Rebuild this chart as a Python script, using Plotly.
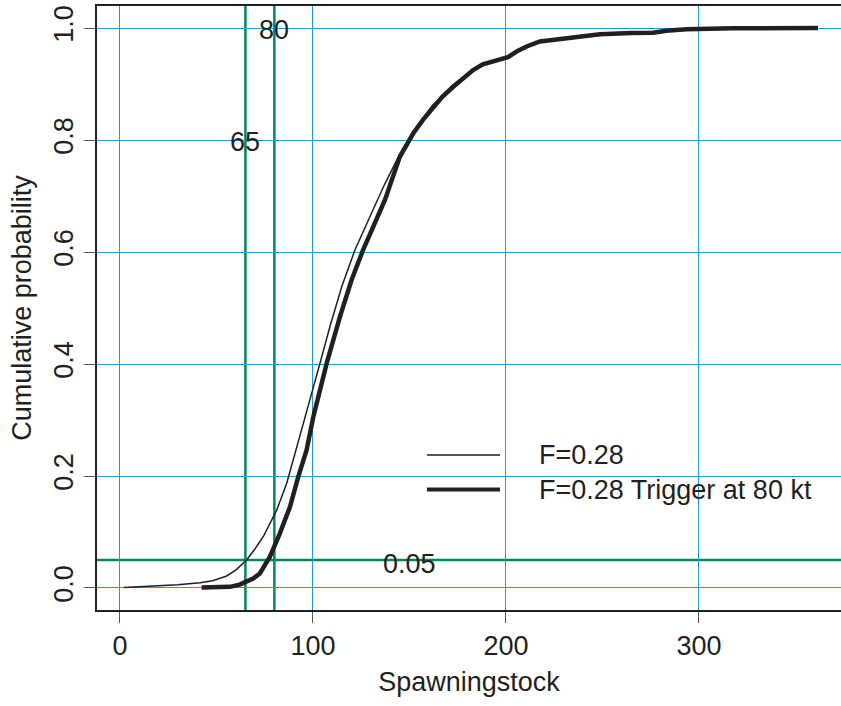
import plotly.graph_objects as go

# Data
thin_x = [2, 15, 30, 41.5, 48, 55, 60, 65.6, 70, 74.3, 81.2, 86.4, 90.5, 94.5, 98.4, 103.6, 108.8, 114.9,
          121.8, 129.5, 137, 144, 149.4, 155, 162, 167, 172, 178, 183, 188, 193, 198, 202, 206, 211, 218, 231,
          249, 265, 276, 283, 294, 318, 340, 361]
thin_y = [0.001, 0.003, 0.006, 0.0095, 0.013, 0.021, 0.032, 0.05, 0.07, 0.092, 0.139, 0.187, 0.237,
          0.285, 0.336, 0.401, 0.467, 0.538, 0.604, 0.663, 0.72, 0.768, 0.8, 0.83, 0.862, 0.878, 0.897, 0.912,
          0.926, 0.936, 0.941, 0.944, 0.949, 0.958, 0.967, 0.976, 0.982, 0.989, 0.991, 0.992, 0.995, 0.998,
          0.999, 1.0, 1.0]

thick_x = [42.3, 50, 57, 62, 65.6, 69, 72.5, 77.7, 82.9, 88.1, 92.4, 96.7, 100.2, 107.1, 114, 120, 126, 133,
           137.3, 145, 152, 157, 162.3, 167, 172.7, 178, 183, 188, 193, 197, 201, 205.5, 210.7, 217.6, 231.4,
           248.7, 265, 276.3, 283, 293.6, 317.8, 340, 361.7]
thick_y = [0.001, 0.001, 0.002, 0.006, 0.011, 0.017, 0.026, 0.056, 0.098, 0.145, 0.199, 0.246, 0.306, 0.401,
           0.4845, 0.55, 0.604, 0.657, 0.693, 0.77, 0.812, 0.836, 0.859, 0.877, 0.895, 0.911, 0.925, 0.935,
           0.94, 0.943, 0.948, 0.958, 0.967, 0.976, 0.982, 0.989, 0.991, 0.9916, 0.995, 0.9976, 0.9994, 1.0, 1.0]

series_names = ["F=0.28", "F=0.28 Trigger at 80 kt"]
ref_vlines = [65, 80]
ref_hline = 0.05
x_ticks = [0, 100, 200, 300]
y_ticks = [0.0, 0.2, 0.4, 0.6, 0.8, 1.0]

INK = "#231f20"
GRID = "#1f9ad6"
GREEN = "#00885a"
FONT = "Liberation Sans, Arial, sans-serif"
FS = 27

fig = go.Figure()
fig.add_trace(go.Scatter(x=thin_x, y=thin_y, mode="lines", name=series_names[0],
                         line=dict(color=INK, width=1.5), showlegend=False))
fig.add_trace(go.Scatter(x=thick_x, y=thick_y, mode="lines", name=series_names[1],
                         line=dict(color=INK, width=4.5), showlegend=False))

shapes = []
for v in ref_vlines:
    shapes.append(dict(type="line", xref="x", yref="paper", x0=v, x1=v, y0=0, y1=1,
                       line=dict(color=GREEN, width=2.5), layer="below"))
shapes.append(dict(type="line", xref="paper", yref="y", x0=0, x1=1, y0=ref_hline, y1=ref_hline,
                   line=dict(color=GREEN, width=2.5), layer="below"))

# manual legend
leg_y = [0.2566, 0.1995]
leg_w = [1.3, 3.8]
annotations = []
for name, yy, w in zip(series_names, leg_y, leg_w):
    shapes.append(dict(type="line", xref="paper", yref="paper", x0=0.4435, x1=0.5417, y0=yy, y1=yy,
                       line=dict(color=INK, width=w)))
    annotations.append(dict(xref="paper", yref="paper", x=0.5914, y=yy, text=name, showarrow=False,
                            xanchor="left", yanchor="middle", font=dict(size=FS, color=INK, family=FONT)))

for v, yy in zip(ref_vlines, [0.8, 1.0]):
    annotations.append(dict(x=v, y=yy, text=str(v), showarrow=False, xanchor="center", yanchor="middle",
                            yshift=-2, font=dict(size=FS, color=INK, family=FONT)))
annotations.append(dict(x=150, y=ref_hline, text="0.05", showarrow=False, xanchor="center",
                        yanchor="middle", yshift=-4, font=dict(size=FS, color=INK, family=FONT)))

fig.update_layout(
    width=841, height=706,
    margin=dict(l=97, r=0, t=6, b=96),
    plot_bgcolor="white", paper_bgcolor="white",
    font=dict(family=FONT, size=FS, color=INK),
    shapes=shapes, annotations=annotations,
    xaxis=dict(range=[-11.9, 373.6], tickvals=x_ticks, ticktext=[str(t) for t in x_ticks],
               showgrid=True, gridcolor=GRID, gridwidth=1.2, zeroline=False,
               showline=True, linecolor=INK, linewidth=1.5, mirror=True,
               ticks="outside", ticklen=11, tickcolor="#555", tickwidth=1,
               title=dict(text="Spawningstock", font=dict(size=FS), standoff=12)),
    yaxis=dict(range=[-0.0393, 1.0393], tickvals=y_ticks, ticktext=[f"{t:.1f}" for t in y_ticks],
               showgrid=True, gridcolor=GRID, gridwidth=1.2, zeroline=False,
               showline=True, linecolor=INK, linewidth=1.5,
               ticks="outside", ticklen=11, tickcolor="#555", tickwidth=1, tickangle=-90,
               title=dict(text="Cumulative probability", font=dict(size=FS), standoff=10)),
)

fig.write_html("out.html", config={"displayModeBar": False},
               post_script="document.body.style.margin='0';")
